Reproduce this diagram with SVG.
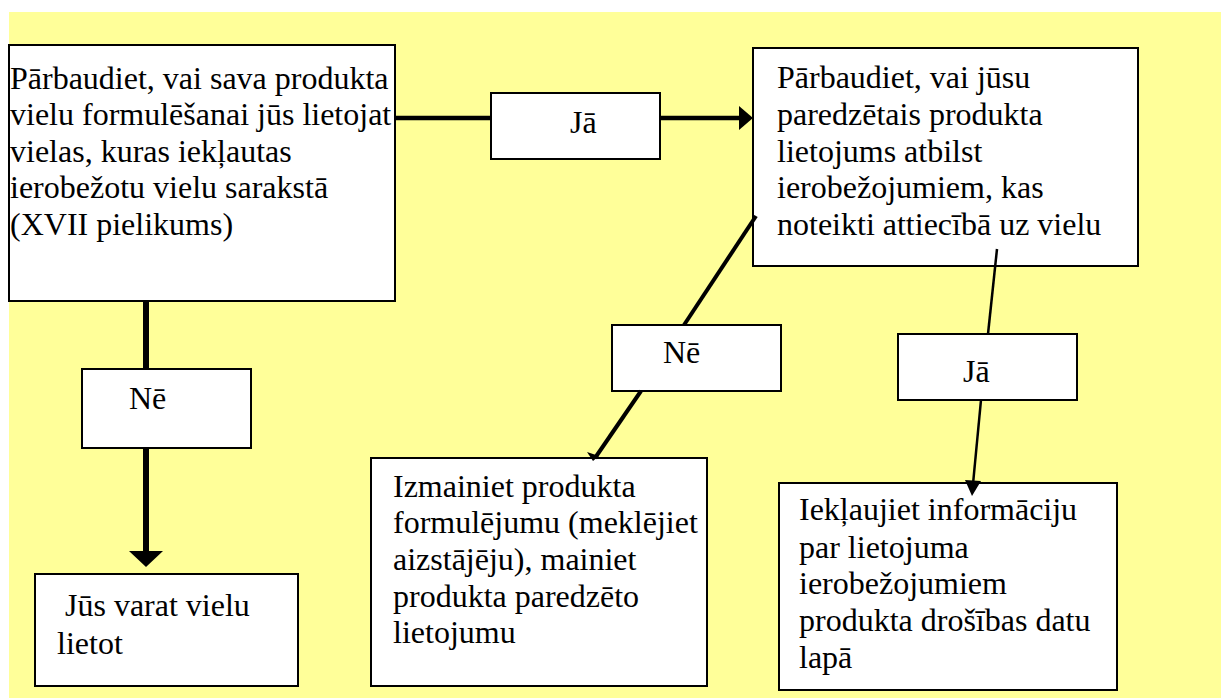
<svg xmlns="http://www.w3.org/2000/svg" width="1221" height="698" viewBox="0 0 1221 698">
  <style>
    .box { fill: #ffffff; stroke: #000000; stroke-width: 2; }
    .txt { font-size: 32px; fill: #000000; }
    .wire { fill: none; stroke: #000000; stroke-linecap: butt; }
    .head { fill: #000000; stroke: none; }
  </style>

  <!-- page background -->
  <rect x="9" y="12" width="1212" height="686" fill="#ffff99"/>

  <!-- nodes -->
  <g id="nodes" font-family="Liberation Serif, Times New Roman, Tinos, Noto Serif, DejaVu Serif, serif">
  <g id="check-restricted">
    <rect class="box" x="9" y="45" width="386" height="256"/>
    <text class="txt" x="10">
      <tspan x="10" y="89">Pārbaudiet, vai sava produkta</tspan>
      <tspan x="10" y="125">vielu formulēšanai jūs lietojat</tspan>
      <tspan x="10" y="162">vielas, kuras iekļautas</tspan>
      <tspan x="10" y="198">ierobežotu vielu sarakstā</tspan>
      <tspan x="10" y="235">(XVII pielikums)</tspan>
    </text>
  </g>

  <g id="check-use">
    <rect class="box" x="753" y="48" width="385" height="218"/>
    <text class="txt">
      <tspan x="777" y="88">Pārbaudiet, vai jūsu</tspan>
      <tspan x="777" y="125">paredzētais produkta</tspan>
      <tspan x="777" y="162">lietojums atbilst</tspan>
      <tspan x="777" y="198">ierobežojumiem, kas</tspan>
      <tspan x="777" y="235">noteikti attiecībā uz vielu</tspan>
    </text>
  </g>

  <g id="label-yes-top">
    <rect class="box" x="491" y="93" width="169" height="66"/>
    <text class="txt" x="570" y="133">Jā</text>
  </g>

  <g id="label-no-left">
    <rect class="box" x="82" y="369" width="169" height="79"/>
    <text class="txt" x="129" y="409">Nē</text>
  </g>

  <g id="label-no-middle">
    <rect class="box" x="612" y="325" width="169" height="66"/>
    <text class="txt" x="663" y="363">Nē</text>
  </g>

  <g id="label-yes-right">
    <rect class="box" x="898" y="334" width="179" height="66"/>
    <text class="txt" x="963" y="382">Jā</text>
  </g>

  <g id="may-use">
    <rect class="box" x="35" y="574" width="263" height="112"/>
    <text class="txt">
      <tspan x="65" y="616">Jūs varat vielu</tspan>
      <tspan x="57" y="654">lietot</tspan>
    </text>
  </g>

  <g id="change-formulation">
    <rect class="box" x="371" y="458" width="336" height="228"/>
    <text class="txt">
      <tspan x="393" y="497">Izmainiet produkta</tspan>
      <tspan x="393" y="533">formulējumu (meklējiet</tspan>
      <tspan x="393" y="570">aizstājēju), mainiet</tspan>
      <tspan x="393" y="607">produkta paredzēto</tspan>
      <tspan x="393" y="643">lietojumu</tspan>
    </text>
  </g>

  <g id="include-info">
    <rect class="box" x="779" y="483" width="338" height="207"/>
    <text class="txt">
      <tspan x="799" y="520">Iekļaujiet informāciju</tspan>
      <tspan x="799" y="558">par lietojuma</tspan>
      <tspan x="799" y="594">ierobežojumiem</tspan>
      <tspan x="799" y="631">produkta drošības datu</tspan>
      <tspan x="799" y="668">lapā</tspan>
    </text>
  </g>
  </g>

  <!-- connectors -->
  <g id="connectors">
    <!-- first check, no: down to "may use" -->
    <line class="wire" x1="146" y1="301" x2="146" y2="369" stroke-width="6"/>
    <line class="wire" x1="146" y1="448" x2="146" y2="553" stroke-width="6"/>
    <polygon class="head" points="129,551 163,551 146,567"/>

    <!-- first check, yes: right to second check -->
    <line class="wire" x1="395" y1="118" x2="491" y2="118" stroke-width="4.5"/>
    <line class="wire" x1="660" y1="118" x2="741" y2="118" stroke-width="4.5"/>
    <polygon class="head" points="739,106 739,130 753,118"/>

    <!-- second check, no: down-left to "change formulation" -->
    <line class="wire" x1="756" y1="216" x2="684" y2="325" stroke-width="4"/>
    <line class="wire" x1="641" y1="391" x2="595" y2="458" stroke-width="4"/>
    <polygon class="head" points="587,452 599,456 593,461"/>

    <!-- second check, yes: down to "include info" -->
    <line class="wire" x1="997" y1="249" x2="988" y2="334" stroke-width="2.5"/>
    <line class="wire" x1="981" y1="400" x2="973" y2="484" stroke-width="2.5"/>
    <polygon class="head" points="965,480 981,481 972,496"/>
  </g>
</svg>
